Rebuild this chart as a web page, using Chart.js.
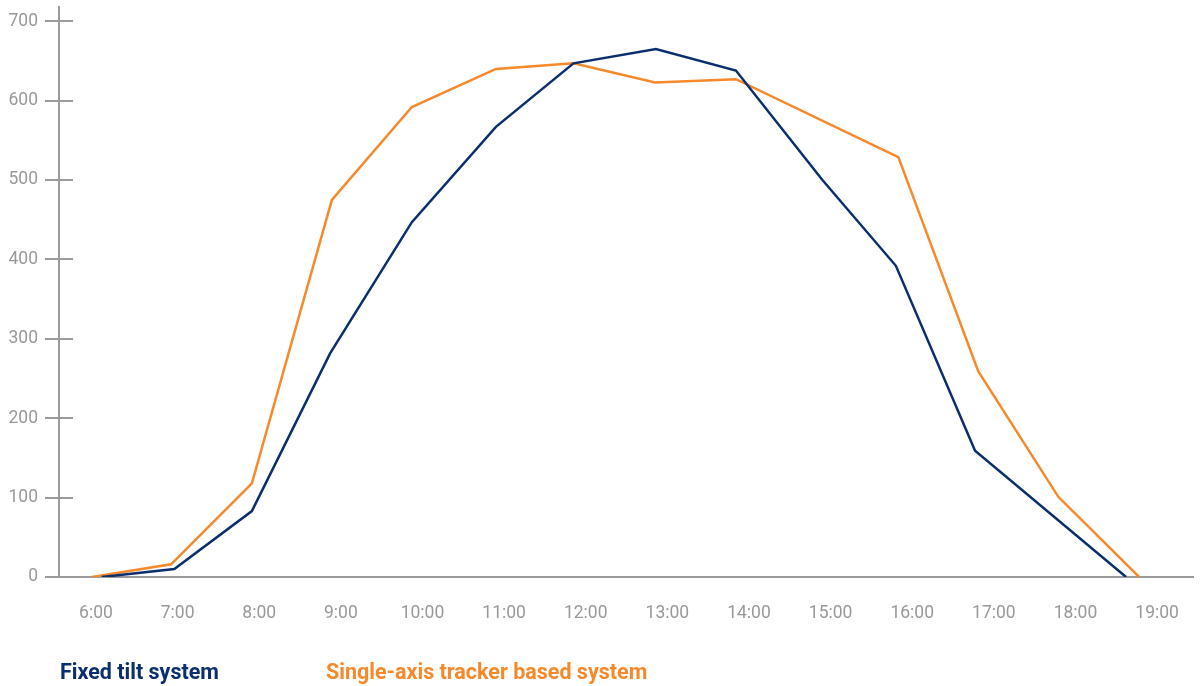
<!DOCTYPE html>
<html>
<head>
<meta charset="utf-8">
<script src="https://cdn.jsdelivr.net/npm/chart.js@4/dist/chart.umd.min.js"></script>
<style>
  html, body { margin: 0; padding: 0; background: #fff; }
  #wrap { position: relative; width: 1201px; height: 686px; }
  #grafico { position: absolute; left: 0; top: 0; }
  .legend { position: absolute; top: 659px; font-family: Roboto, sans-serif; font-weight: 700; font-size: 21.5px; line-height: 26px; }
  #leg-fixed { left: 60px; color: #0b2f6e; }
  #leg-tracker { left: 326px; color: #f5892b; }
</style>
</head>
<body>
<div id="wrap">
  <canvas id="grafico" width="1201" height="686"></canvas>
  <div class="legend" id="leg-fixed">Fixed tilt system</div>
  <div class="legend" id="leg-tracker">Single-axis tracker based system</div>
</div>
<script>
// horas (decimais) e valores
const fixedHours   = [6.07, 6.96, 7.91, 8.87, 9.87, 10.90, 11.85, 12.86, 13.84, 14.90, 15.80, 16.77, 18.62];
const fixedValues  = [0, 10, 83, 282, 447, 567, 647, 665, 638, 500, 392, 159, 0];
const trackerHours  = [5.95, 6.92, 7.91, 8.89, 9.87, 10.90, 11.85, 12.85, 13.84, 15.83, 16.81, 17.79, 18.78];
const trackerValues = [0, 16, 118, 475, 592, 640, 647, 623, 627, 529, 259, 101, 0];

const xTickHours = [6, 7, 8, 9, 10, 11, 12, 13, 14, 15, 16, 17, 18, 19];
const yTickValues = [0, 100, 200, 300, 400, 500, 600, 700];

const AXIS_GRAY = '#9b9b9b';
const TEXT_GRAY = '#999999';

function pares(xs, ys) {
  return xs.map((x, i) => ({ x: x, y: ys[i] }));
}

// marcas do eixo y atravessando a linha do eixo
const crossTicks = {
  id: 'crossTicks',
  beforeDatasetsDraw(chart) {
    const y = chart.scales.y;
    const ctx = chart.ctx;
    ctx.save();
    ctx.strokeStyle = AXIS_GRAY;
    ctx.lineWidth = 2;
    y.ticks.forEach(t => {
      const py = Math.round(y.getPixelForValue(t.value));
      ctx.beginPath();
      ctx.moveTo(y.right - 14, py);
      ctx.lineTo(y.right + 14, py);
      ctx.stroke();
    });
    ctx.restore();
  }
};

const ctx = document.getElementById('grafico').getContext('2d');
new Chart(ctx, {
  type: 'line',
  data: {
    datasets: [
      {
        label: 'Fixed tilt system',
        data: pares(fixedHours, fixedValues),
        borderColor: '#0b2f6e',
        borderWidth: 2.5,
        pointRadius: 0,
        tension: 0
      },
      {
        label: 'Single-axis tracker based system',
        data: pares(trackerHours, trackerValues),
        borderColor: '#f5892b',
        borderWidth: 2.5,
        pointRadius: 0,
        tension: 0
      }
    ]
  },
  options: {
    responsive: false,
    animation: false,
    events: [],
    layout: { padding: { top: 7, right: 8, left: 0, bottom: 0 } },
    plugins: { legend: { display: false }, tooltip: { enabled: false } },
    scales: {
      x: {
        type: 'linear',
        min: 5.547,
        max: 19.44,
        afterBuildTicks: s => { s.ticks = xTickHours.map(v => ({ value: v })); },
        afterFit: s => { s.height = 109; s.paddingLeft = 0; s.paddingRight = 0; },
        grid: { display: false, drawTicks: false },
        border: { color: AXIS_GRAY, width: 2 },
        ticks: {
          padding: 26,
          color: TEXT_GRAY,
          font: { family: 'Roboto', size: 17.5 },
          maxRotation: 0,
          autoSkip: false,
          callback: v => v + ':00'
        }
      },
      y: {
        min: 0,
        max: 718,
        afterBuildTicks: s => { s.ticks = yTickValues.map(v => ({ value: v })); },
        afterFit: s => { s.width = 59; s.paddingTop = 0; s.paddingBottom = 0; },
        grid: { display: false, drawTicks: false },
        border: { color: AXIS_GRAY, width: 2 },
        ticks: {
          padding: 21,
          color: TEXT_GRAY,
          font: { family: 'Roboto', size: 17.5 }
        }
      }
    }
  },
  plugins: [crossTicks]
});
</script>
</body>
</html>
